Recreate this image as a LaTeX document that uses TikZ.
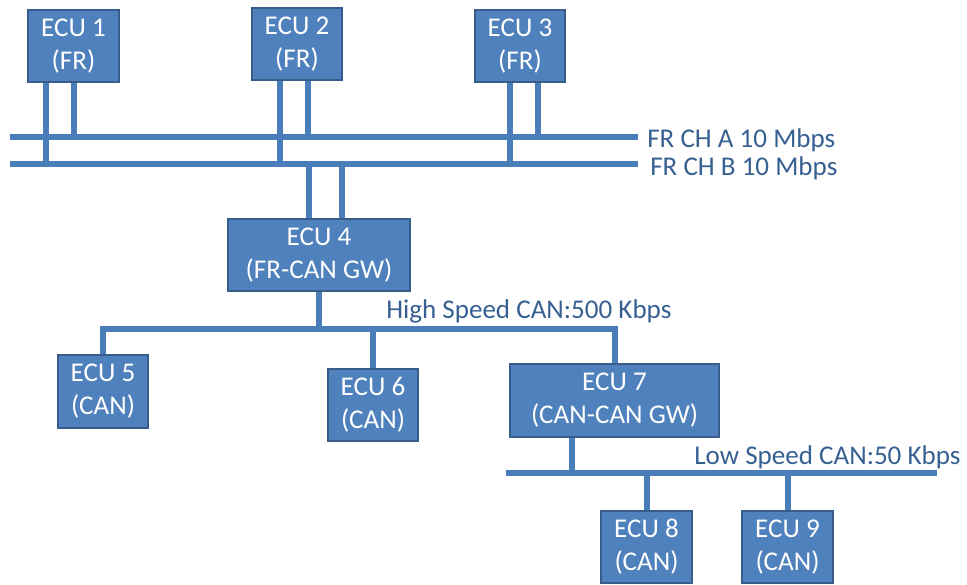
\documentclass[tikz,border=0pt]{standalone}
\usepackage{fontspec}
\setmainfont{Carlito}
\usetikzlibrary{backgrounds}
\definecolor{ecufill}{HTML}{4F81BD}
\definecolor{ecuedge}{HTML}{385D8A}
\definecolor{buscol}{HTML}{4A7EBB}
\definecolor{labelcol}{HTML}{376092}
\tikzset{
  ecu/.style={draw=ecuedge, fill=ecufill, line width=1.5pt, text=white, align=center,
    minimum width=68pt, minimum height=54.5pt, inner sep=0pt,
    font=\fontsize{20.3}{24.75}\selectfont},
  bus/.style={draw=buscol, line width=4.5pt},
  buslabel/.style={text=labelcol, inner sep=0pt, anchor=base west,
    font=\fontsize{20.3}{24}\selectfont}
}
\begin{document}
\begin{tikzpicture}[x=0.75pt,y=-0.75pt]
  \useasboundingbox (0,0) rectangle (967,585);

  % ECUs
  \node[ecu] (ecu1) at (73.5,46) {ECU 1\\(FR)};
  \node[ecu] (ecu2) at (297,44) {ECU 2\\(FR)};
  \node[ecu] (ecu3) at (520,46) {ECU 3\\(FR)};
  \node[ecu, minimum width=137pt] (ecu4) at (319,255) {ECU 4\\(FR-CAN GW)};
  \node[ecu] (ecu5) at (103,391.5) {ECU 5\\(CAN)};
  \node[ecu] (ecu6) at (373,405) {ECU 6\\(CAN)};
  \node[ecu, minimum width=157pt] (ecu7) at (614.5,400.5) {ECU 7\\(CAN-CAN GW)};
  \node[ecu] (ecu8) at (646.5,547) {ECU 8\\(CAN)};
  \node[ecu] (ecu9) at (787.5,547) {ECU 9\\(CAN)};

  % bus ends
  \coordinate (chA-w) at (10,137);
  \coordinate (chA-e) at (638,137);
  \coordinate (chB-w) at (10,164);
  \coordinate (chB-e) at (638,164);
  \coordinate (hs) at (0,329);
  \coordinate (ls-w) at (506,473);
  \coordinate (ls-e) at (937,473);

  % bus names
  \node[buslabel] (chA) at (647,147) {FR CH A 10 Mbps};
  \node[buslabel] (chB) at (650,175) {FR CH B 10 Mbps};
  \node[buslabel] (hsl) at (386,318) {High Speed CAN:500 Kbps};
  \node[buslabel] (lsl) at (694,464) {Low Speed CAN:50 Kbps};

  \begin{scope}[on background layer]
    % FlexRay
    \draw[bus] (chA-w) -- (chA-e);
    \draw[bus] (chB-w) -- (chB-e);
    \draw[bus] (46,0 |- ecu1.south) -- (46,0 |- chB-w);
    \draw[bus] (74,0 |- ecu1.south) -- (74,0 |- chA-w);
    \draw[bus] (280,0 |- ecu2.south) -- (280,0 |- chB-w);
    \draw[bus] (308,0 |- ecu2.south) -- (308,0 |- chA-w);
    \draw[bus] (510,0 |- ecu3.south) -- (510,0 |- chB-w);
    \draw[bus] (538,0 |- ecu3.south) -- (538,0 |- chA-w);
    \draw[bus] (309,0 |- chB-w) -- (309,0 |- ecu4.north);
    \draw[bus] (342,0 |- chB-w) -- (342,0 |- ecu4.north);

    % high speed CAN
    \draw[bus] (ecu4.south) -- (ecu4.south |- hs);
    \draw[bus] (ecu5.north) |- (ecu7.north |- hs) -- (ecu7.north);
    \draw[bus] (ecu6.north |- hs) -- (ecu6.north);

    % low speed CAN
    \draw[bus] (572,0 |- ecu7.south) -- (572,0 |- ls-w);
    \draw[bus] (ls-w) -- (ls-e);
    \draw[bus] (ecu8.north |- ls-w) -- (ecu8.north);
    \draw[bus] (ecu9.north |- ls-w) -- (ecu9.north);
  \end{scope}
\end{tikzpicture}
\end{document}
